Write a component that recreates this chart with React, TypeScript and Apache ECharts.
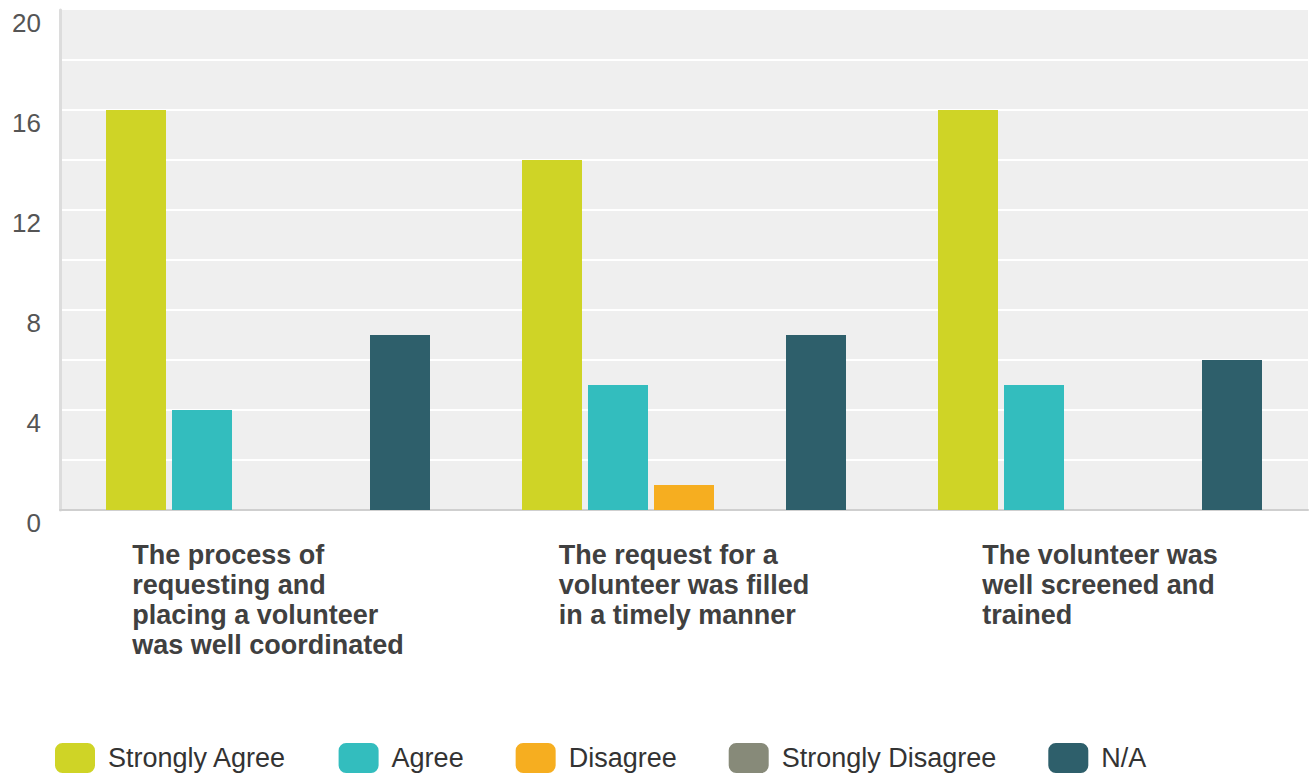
import React, { useEffect, useRef } from "react";
import * as echarts from "echarts";

const categories = [
  "The process of\nrequesting and\nplacing a volunteer\nwas well coordinated",
  "The request for a\nvolunteer was filled\nin a timely manner",
  "The volunteer was\nwell screened and\ntrained",
];
const seriesNames = ["Strongly Agree", "Agree", "Disagree", "Strongly Disagree", "N/A"];
const seriesColors = ["#cfd426", "#33bdbe", "#f6ae20", "#878a79", "#2e5f6b"];
const stronglyAgree = [16, 14, 16];
const agree = [4, 5, 5];
const disagree = [0, 1, 0];
const stronglyDisagree = [0, 0, 0];
const notApplicable = [7, 7, 6];
const seriesValues = [stronglyAgree, agree, disagree, stronglyDisagree, notApplicable];
const yTickLabels = [0, 4, 8, 12, 16, 20];

export default function App() {
  const ref = useRef<HTMLDivElement>(null);
  useEffect(() => {
    document.body.style.margin = "0";
    const chart = echarts.init(ref.current!, null, { renderer: "svg" });
    chart.setOption({
      animation: false,
      backgroundColor: "#ffffff",
      grid: {
        left: 60,
        right: 8,
        top: 10,
        bottom: 267,
        show: true,
        backgroundColor: "#efefef",
        borderWidth: 0,
      },
      legend: {
        left: 55,
        top: 743,
        padding: 0,
        itemWidth: 40,
        itemHeight: 30,
        itemGap: 52,
        icon: "roundRect",
        data: seriesNames,
        textStyle: {
          fontFamily: "Liberation Sans, Arial, sans-serif",
          fontSize: 27,
          color: "#333333",
          padding: [0, 0, 0, 8],
        },
      },
      xAxis: {
        type: "category",
        data: categories,
        axisTick: { show: false },
        axisLine: { show: true, lineStyle: { color: "#cfcfcf", width: 2 } },
        axisLabel: {
          interval: 0,
          margin: 30,
          align: "center",
          verticalAlign: "top",
          formatter: (v: string) =>
            v
              .split("\n")
              .map((l) => `{l|${l}}`)
              .join("\n"),
          rich: {
            l: {
              align: "left",
              fontFamily: "Liberation Sans, Arial, sans-serif",
              fontWeight: "bold",
              fontSize: 27,
              lineHeight: 30,
              color: "#404040",
            },
          },
        },
      },
      yAxis: {
        type: "value",
        min: 0,
        max: 20,
        interval: 2,
        axisTick: { show: false },
        axisLine: { show: true, lineStyle: { color: "#dcdcdc", width: 3 } },
        splitLine: {
          show: true,
          showMaxLine: false,
          lineStyle: { color: "#ffffff", width: 2 },
        },
        axisLabel: {
          margin: 19,
          verticalAlign: "top",
          lineHeight: 26,
          fontFamily: "Liberation Sans, Arial, sans-serif",
          fontSize: 26,
          color: "#555555",
          formatter: (v: number) => (yTickLabels.indexOf(v) >= 0 ? String(v) : ""),
        },
      },
      series: seriesNames.map((name, i) => ({
        name,
        type: "bar",
        data: seriesValues[i],
        barWidth: 60,
        barGap: "10%",
        itemStyle: { color: seriesColors[i] },
      })),
    });
    return () => chart.dispose();
  }, []);
  return <div ref={ref} style={{ width: 1316, height: 777 }} />;
}
